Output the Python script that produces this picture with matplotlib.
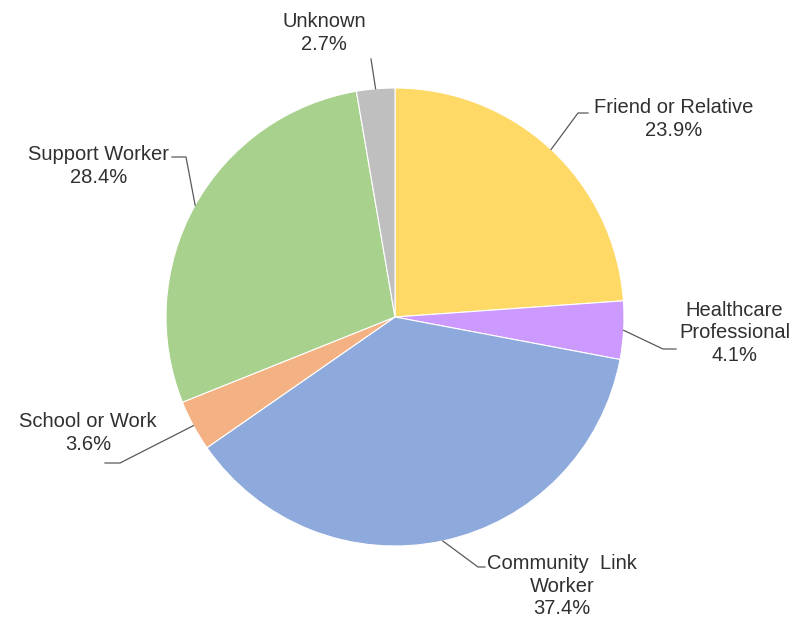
import numpy as np
import matplotlib.pyplot as plt

# referral sources, clockwise from 12 o'clock
labels = ["Friend or Relative", "Healthcare\nProfessional", "Community  Link\nWorker",
          "School or Work", "Support Worker", "Unknown"]
shares = [23.9, 4.1, 37.4, 3.6, 28.4, 2.7]
colors = ["#FFD966", "#CC99FF", "#8EA9DB", "#F4B183", "#A9D18E", "#BFBFBF"]

# label layout in pixel offsets from the pie centre: (elbow, line end, text anchor, ha)
callouts = [
    ((183, 204), (193, 204), (199, 198), "left"),
    ((268, -32), (281, -32), (284, -16), "left"),
    ((83, -250), (90, -250), (92, -269), "left"),
    ((-275, -146), (-290, -146), (-238, -116), "right"),
    ((-209, 160), (-223, 160), (-226, 151), "right"),
    ((-24, 258), (-24, 258), (-29, 284), "right"),
]

W, H = 797, 621
cx, cy = 395, 317
R = 229

plt.rcParams["font.family"] = ["Liberation Sans", "DejaVu Sans"]
fig = plt.figure(figsize=(W / 100, H / 100), dpi=100)
ax = fig.add_axes([0, 0, 1, 1])

wedges, _ = ax.pie(shares, colors=colors, startangle=90, counterclock=False,
                   radius=R, center=(0, 0),
                   wedgeprops=dict(edgecolor="white", linewidth=0.8))

for w, lab, val, (elbow, end, txt, ha) in zip(wedges, labels, shares, callouts):
    mid = np.deg2rad((w.theta1 + w.theta2) / 2)
    x0, y0 = R * np.cos(mid), R * np.sin(mid)
    ax.plot([x0, elbow[0], end[0]], [y0, elbow[1], end[1]],
            color="#595959", lw=0.9, zorder=1)
    ax.text(txt[0], txt[1], f"{lab}\n{val}%", ha=ha, va="center",
            multialignment="center", fontsize=14.5, color="#303030",
            linespacing=1.24)

ax.set_xlim(-cx, W - cx)
ax.set_ylim(-(H - cy), cy)
ax.set_aspect("equal")
ax.axis("off")

fig.savefig("out.png", dpi=100)
